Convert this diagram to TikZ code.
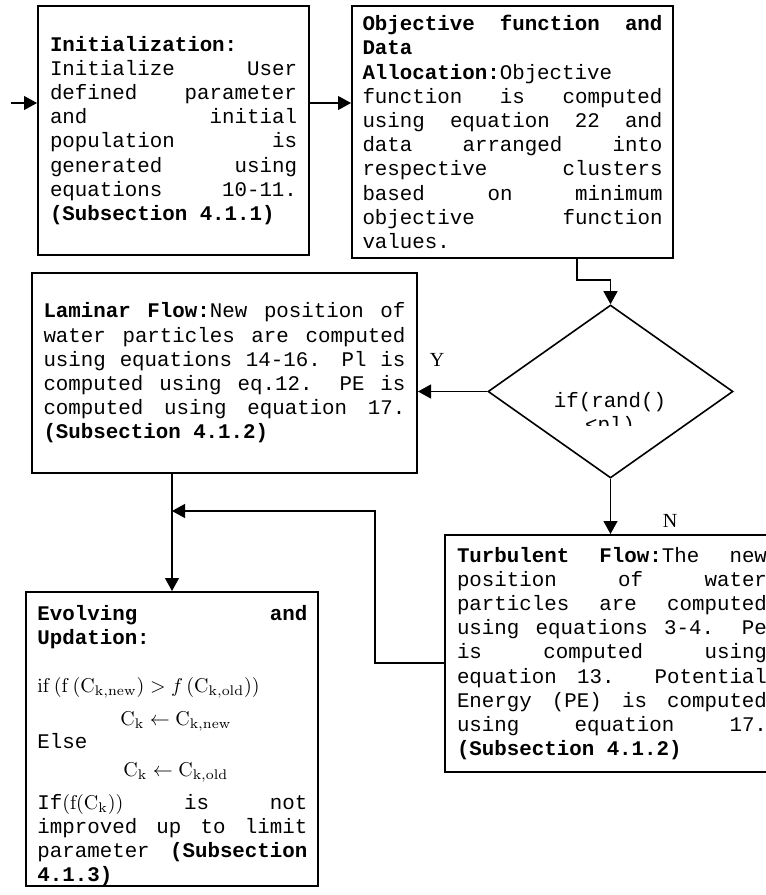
\documentclass[tikz,border=0pt]{standalone}
\usepackage[no-math]{fontspec}
\setmainfont{Liberation Mono}[WordSpace={1,1.5,0.3}]
\newfontfamily\serifl{Liberation Serif}
\usetikzlibrary{arrows.meta,shapes.geometric}
\setlength\parindent{0pt}
\tolerance=10000
\hyphenpenalty=10000
\exhyphenpenalty=10000
\hbadness=10000
\newcommand\boxfont{\fontsize{10.4pt}{12.1pt}\selectfont\lineskiplimit=-100pt\relax}
\begin{document}
\begin{tikzpicture}[x=0.5pt,y=-0.5pt,
  txt/.style={font=\boxfont},
  box/.style={txt, draw, line width=1pt, rectangle, inner ysep=1pt, align=justify},
  dec/.style={draw, line width=0.8pt, shape=diamond, inner sep=0pt, minimum width=122.5pt, minimum height=86.5pt},
  conn/.style={line width=0.6pt, -{Triangle[length=6.5pt,width=7pt]}},
  flowlbl/.style={font=\serifl\fontsize{10pt}{12pt}\selectfont, inner sep=0pt}]
\useasboundingbox (0,0) rectangle (766,895);
\clip (0,0) rectangle (766,895);

\node[box, text width=123.5pt, inner xsep=6pt, minimum width=135.5pt, minimum height=124.5pt] (init) at (173.5,130.5) {%
\textbf{Initialization:}\linebreak Initialize User\linebreak defined parameter\linebreak and initial\linebreak population is\linebreak generated using\linebreak equations 10-11.\linebreak \textbf{(Subsection 4.1.1)}};

\node[box, text width=150pt, inner xsep=5.25pt, minimum width=160.5pt, minimum height=126pt] (obj) at (512.5,132) {%
\textbf{Objective function and}\linebreak \textbf{Data}\linebreak \textbf{Allocation:}Objective\linebreak function is computed\linebreak using equation 22 and\linebreak data arranged into\linebreak respective clusters\linebreak based on minimum\linebreak objective function\linebreak values.};

\node[box, text width=181pt, inner xsep=5.75pt, minimum width=192.5pt, minimum height=100pt] (lam) at (224.5,373) {%
\textbf{Laminar Flow:}New position of\linebreak water particles are computed\linebreak using equations 14-16. Pl is\linebreak computed using eq.12. PE is\linebreak computed using equation 17.\linebreak \textbf{(Subsection 4.1.2)}};

\node[dec] (dia) at (610.5,391.5) {};
\begin{scope}
\clip (540,380) rectangle (680,425);
\node[txt, anchor=base, text width=70pt, align=center, inner sep=0pt] (diatxt) at (610,407) {if(rand()\\<pl)};
\end{scope}

\node[box, text width=155pt, inner xsep=6pt, minimum width=167pt, minimum height=118.5pt] (tur) at (612,653.5) {%
\textbf{Turbulent Flow:}The new\linebreak position of water\linebreak particles are computed\linebreak using equations 3-4. Pe\linebreak is computed using\linebreak equation 13. Potential\linebreak Energy (PE) is computed\linebreak using equation 17.\linebreak \textbf{(Subsection 4.1.2)}};

\node[draw, line width=1pt, rectangle, inner sep=0pt, minimum width=146pt, minimum height=147pt] (evo) at (172,739) {};
\node[txt, anchor=base west, inner sep=0pt, text width=135pt, align=justify] (evotxt) at (37,620) {%
\textbf{Evolving and}\linebreak\textbf{Updation:}\par
\vspace{11.9pt}
$\mathrm{if}\left(\mathrm{f}\left(\mathrm{C}_{\mathrm{k,new}}\right)>f\left(\mathrm{C}_{\mathrm{k,old}}\right)\right)$\par
\vspace{4.4pt}
\hspace*{41.5pt}$\mathrm{C}_{\mathrm{k}}\leftarrow\mathrm{C}_{\mathrm{k,new}}$\par
\vspace{-0.6pt}
Else\par
\vspace{1.9pt}
\hspace*{43pt}$\mathrm{C}_{\mathrm{k}}\leftarrow\mathrm{C}_{\mathrm{k,old}}$\par
\vspace{4.4pt}
If$\left(\mathrm{f}(\mathrm{C}_{\mathrm{k}})\right)$ is not\linebreak improved up to limit\linebreak parameter \textbf{(Subsection}\linebreak\textbf{4.1.3)}};

\node[flowlbl] (ylbl) at (437,360) {Y};
\node[flowlbl] (nlbl) at (670,521) {N};

\coordinate (s) at (11,103);
\draw[conn] (s) -- (s -| init.west);
\draw[conn] (init.east |- s) -- (obj.west |- s);
\coordinate (k1) at (577,280);
\draw[conn] (obj.south -| k1) -- (k1) -| (dia.north);
\draw[conn] (dia.west) -- (dia.west -| lam.east);
\draw[conn] (dia.south) -- (dia.south |- tur.north);
\draw[conn] (lam.south -| evo.north) -- (evo.north);
\coordinate (f1) at (375,663);
\coordinate (f2) at (375,511);
\draw[conn] (tur.west |- f1) -- (f1) -- (f2) -- (f2 -| evo.north);
\end{tikzpicture}
\end{document}
